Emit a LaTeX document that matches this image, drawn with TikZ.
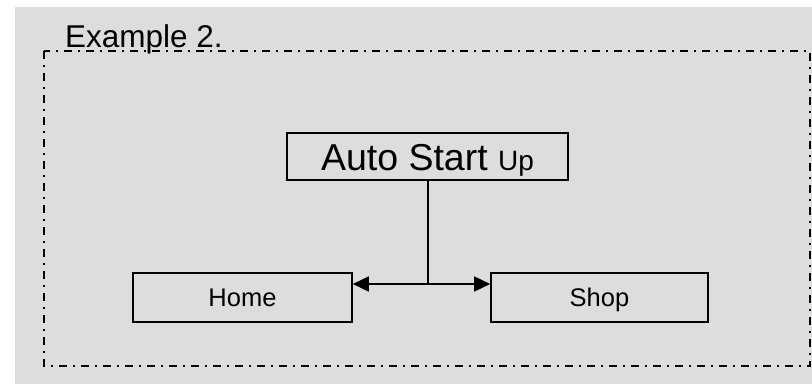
\documentclass[tikz,border=0pt]{standalone}
\usepackage{fontspec}
\setmainfont{Liberation Sans}
\usetikzlibrary{arrows.meta}
\definecolor{bggray}{HTML}{DDDDDD}
\begin{document}
\begin{tikzpicture}[x=1pt,y=1pt,
  box/.style={draw=black, line width=1.6pt, inner sep=0pt, text depth=0pt},
  frame/.style={line width=1.8pt, dash pattern=on 8pt off 6pt on 2pt off 6pt},
  conn/.style={line width=1.6pt},
  tip/.style={-{Triangle[length=16pt,width=15pt]}}
]
\useasboundingbox (0,0) rectangle (812,-384);
\fill[white] (0,0) rectangle (812,-384);
\fill[bggray] (15,-7) rectangle (812,-384);
\draw[frame] (44,-51) rectangle (810,-366);
\node[anchor=base west, inner sep=0pt, font=\fontsize{31.5}{31.5}\selectfont] (title) at (65,-47) {Example 2.};
\node[box, minimum width=281pt, minimum height=47pt, text height=27pt,
      font=\fontsize{37.5}{37.5}\selectfont] (auto) at (427.5,-156.5) {Auto Start {\fontsize{28}{28}\selectfont Up}};
\node[box, minimum width=219pt, minimum height=49pt, text height=18pt,
      font=\fontsize{25.5}{25.5}\selectfont] (home) at (242.5,-297.5) {Home};
\node[box, minimum width=217pt, minimum height=49pt, text height=18pt,
      font=\fontsize{25.5}{25.5}\selectfont] (shop) at (599.5,-297.5) {Shop};
\coordinate (j) at (428,-284);
\draw[conn] (auto.south -| j) -- (j);
\draw[conn, tip] (j) -- (home.east |- j);
\draw[conn, tip] (j) -- (shop.west |- j);
\end{tikzpicture}
\end{document}
